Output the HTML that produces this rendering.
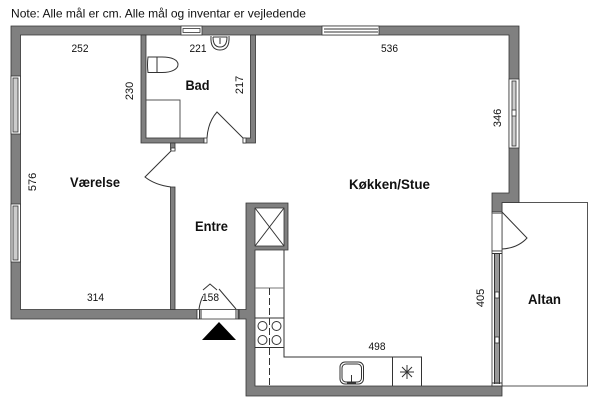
<!DOCTYPE html>
<html><head><meta charset="utf-8">
<style>
html,body{margin:0;padding:0;background:#fff;width:600px;height:404px;overflow:hidden}
svg{display:block}
text{font-family:"Liberation Sans",sans-serif;fill:#111}
.d{font-size:11px;text-anchor:middle}
.b{font-size:14px;font-weight:bold;text-anchor:middle}
.w{fill:#808080;stroke:#333;stroke-width:.8}
.l{fill:none;stroke:#333;stroke-width:1}
.f{fill:#fff;stroke:#333;stroke-width:.8}
.g{fill:#ccc;stroke:#333;stroke-width:.8}
</style></head><body>
<svg width="600" height="404" viewBox="0 0 600 404" xmlns="http://www.w3.org/2000/svg">
<text x="11" y="17.5" font-size="12" textLength="295" lengthAdjust="spacingAndGlyphs">Note: Alle mål er cm. Alle mål og inventar er vejledende</text>

<!-- balcony -->
<rect x="502" y="202.5" width="85.5" height="183.5" fill="#fff" stroke="#555" stroke-width="1"/>

<!-- outer walls -->
<path class="w" d="M11 26H519V202.5H502V212H492V193H509V35H20.5V309.5H197V319H11Z"/>
<!-- bad walls -->
<path class="w" d="M141 35H146V138H204V143H141Z"/>
<path class="w" d="M250.5 35H255.5V143H243V138H250.5Z"/>
<rect class="w" x="170.5" y="143" width="4.5" height="7"/>
<rect class="w" x="170.5" y="187" width="4.5" height="122.5"/>
<!-- kitchen walls -->
<path class="w" d="M239 309.5H246V203H288V250H255V386H492V385H502V396H246V319H239Z"/>
<rect x="255" y="208" width="29" height="38" fill="#fff" stroke="#333" stroke-width=".8"/>
<path class="l" stroke-width=".8" d="M255 208L284 246M284 208L255 246"/>

<!-- windows -->
<g>
<rect class="f" x="181" y="26" width="21" height="9"/><rect class="f" x="183" y="28.5" width="17" height="4"/>
<rect class="f" x="322" y="26" width="57" height="9"/><path class="l" stroke-width=".8" d="M324 29H378M324 32H378"/>
<rect class="f" x="11" y="76" width="9.5" height="58"/><rect class="g" x="13" y="78" width="5" height="54"/>
<rect class="f" x="11" y="204" width="9.5" height="58"/><rect class="g" x="13" y="206" width="5" height="54"/>
<rect class="f" x="509" y="79" width="10" height="69"/><rect class="g" x="512" y="81" width="4" height="65"/>
<rect x="512" y="110" width="4" height="6" class="f"/>
</g>
<!-- balcony door and window -->
<rect class="f" x="492" y="212" width="10" height="39"/>
<rect x="492.5" y="212" width="9" height="2" fill="#999"/>
<rect class="f" x="492" y="251" width="10" height="135"/>
<path class="l" stroke-width=".7" d="M494.5 253V384M496 253V384M498 253V384M499.5 253V384M492 253.5H502M492 383H502"/>
<rect class="f" x="495" y="292" width="4" height="6"/><rect class="f" x="495" y="337" width="4" height="6"/>
<path class="l" d="M502 212L527 238Q518 248 502 249"/>

<!-- bad doors -->
<rect class="f" x="204" y="138" width="3" height="5"/>
<rect class="f" x="243" y="138" width="3" height="5"/>
<path class="l" d="M243 138L217 112Q208 122 207 138"/>
<rect class="f" x="171" y="148" width="4" height="3"/>
<path class="l" d="M171 151L145 177Q155 185 171 187"/>

<!-- entry door -->
<rect class="f" x="197" y="309.5" width="42" height="9.5"/>
<path class="l" stroke-width=".8" d="M199.5 309.5V319M201 309.5V319M236 309.5V319M238 309.5V319M199 309Q200 302 203 296M236 309L219 289M217 290L210 284L203 290"/>
<path d="M219 322L202 340H236Z" fill="#000"/>

<!-- bathroom fixtures -->
<rect x="146" y="100" width="34" height="38" fill="#fff" stroke="#444" stroke-width=".9"/>
<path class="l" stroke-width=".9" d="M148 57H162C172 57 178 60 178 64.5C178 69 172 72.5 162 72.5H148Q147 65 148 57ZM157 57V72.5"/>
<path class="l" stroke-width=".9" d="M211 36Q210 50 220 50Q230 50 229 36M213 37Q213 47 220 47Q227 47 227 37H213M220 38V44"/>

<!-- kitchen -->
<path class="l" d="M284 250V357H421.5V386"/>
<path fill="none" stroke="#777" stroke-width="1" d="M255 288H284"/>
<path fill="none" stroke="#333" stroke-width="1" stroke-dasharray="7 3" d="M269.5 288V386"/>
<path class="l" stroke-width=".8" d="M255 318H284M255 347.5H284"/>
<circle class="l" cx="262.5" cy="326" r="4.5" fill="#fff"/><circle class="l" cx="276.5" cy="326" r="4.5"/>
<circle class="l" cx="262.5" cy="340" r="4.5"/><circle class="l" cx="276.5" cy="340" r="4.5"/>
<path class="l" d="M392.5 357V386"/>
<path class="l" stroke-width=".8" d="M400 372H414M407 365V379M402 367L412 377M412 367L402 377"/>
<rect class="l" x="340" y="362" width="23.5" height="22" rx="5"/>
<rect class="l" stroke-width=".8" x="342" y="364" width="19.5" height="18" rx="4"/>
<path class="l" stroke-width=".9" d="M351.5 375V382M347 383H356"/>

<!-- labels -->
<text class="d" x="80" y="52" textLength="17" lengthAdjust="spacingAndGlyphs">252</text>
<text class="d" x="198" y="52" textLength="17" lengthAdjust="spacingAndGlyphs">221</text>
<text class="d" x="389.5" y="52" textLength="17" lengthAdjust="spacingAndGlyphs">536</text>
<text class="d" x="95.5" y="301" textLength="17" lengthAdjust="spacingAndGlyphs">314</text>
<text class="d" x="210.5" y="301" textLength="17" lengthAdjust="spacingAndGlyphs">158</text>
<text class="d" x="377" y="350" textLength="17" lengthAdjust="spacingAndGlyphs">498</text>
<text class="d" transform="translate(133,91) rotate(-90)">230</text>
<text class="d" transform="translate(243,85) rotate(-90)">217</text>
<text class="d" transform="translate(501,118) rotate(-90)">346</text>
<text class="d" transform="translate(36,182) rotate(-90)">576</text>
<text class="d" transform="translate(484,298) rotate(-90)">405</text>
<text class="b" x="197.5" y="90" textLength="24" lengthAdjust="spacingAndGlyphs">Bad</text>
<text class="b" x="95" y="187" textLength="50" lengthAdjust="spacingAndGlyphs">Værelse</text>
<text class="b" x="389.5" y="189" textLength="81" lengthAdjust="spacingAndGlyphs">Køkken/Stue</text>
<text class="b" x="211.5" y="231" textLength="33" lengthAdjust="spacingAndGlyphs">Entre</text>
<text class="b" x="544.5" y="304" textLength="33" lengthAdjust="spacingAndGlyphs">Altan</text>
</svg>
</body></html>
